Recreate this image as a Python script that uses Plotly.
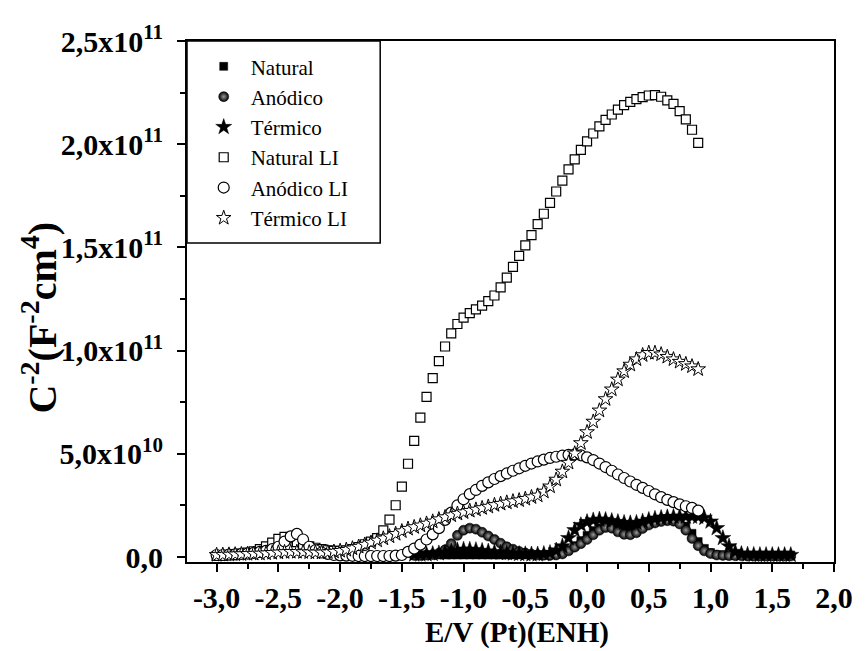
import plotly.graph_objects as go

# ---------------- data (values in units of 1e10 F^-2 cm^4) ----------------
E_LI = [-3.00, -2.95, -2.90, -2.85, -2.80, -2.75, -2.70, -2.65, -2.60, -2.55,
        -2.50, -2.45, -2.40, -2.35, -2.30, -2.25, -2.20, -2.15, -2.10, -2.05,
        -2.00, -1.95, -1.90, -1.85, -1.80, -1.75, -1.70, -1.65, -1.60, -1.55,
        -1.50, -1.45, -1.40, -1.35, -1.30, -1.25, -1.20, -1.15, -1.10, -1.05,
        -1.00, -0.95, -0.90, -0.85, -0.80, -0.75, -0.70, -0.65, -0.60, -0.55,
        -0.50, -0.45, -0.40, -0.35, -0.30, -0.25, -0.20, -0.15, -0.10, -0.05,
        0.00, 0.05, 0.10, 0.15, 0.20, 0.25, 0.30, 0.35, 0.40, 0.45,
        0.50, 0.55, 0.60, 0.65, 0.70, 0.75, 0.80, 0.85, 0.90]

natural_LI = [0.05, 0.07, 0.10, 0.13, 0.17, 0.22, 0.28, 0.38, 0.52, 0.70,
              0.88, 0.98, 0.90, 0.72, 0.60, 0.52, 0.45, 0.38, 0.33, 0.30,
              0.30, 0.32, 0.38, 0.48, 0.62, 0.75, 0.92, 1.29, 1.81, 2.51,
              3.41, 4.52, 5.63, 6.75, 7.76, 8.67, 9.49, 10.20, 10.84, 11.29,
              11.60, 11.82, 12.00, 12.18, 12.40, 12.67, 13.06, 13.54, 14.06, 14.59,
              15.10, 15.60, 16.13, 16.63, 17.16, 17.71, 18.24, 18.78, 19.27, 19.73,
              20.14, 20.52, 20.86, 21.18, 21.44, 21.68, 21.89, 22.05, 22.18, 22.28,
              22.36, 22.38, 22.30, 22.12, 21.95, 21.60, 21.20, 20.70, 20.06]

anodico_LI = [0.10, 0.10, 0.12, 0.13, 0.15, 0.17, 0.20, 0.25, 0.30, 0.38,
              0.50, 0.75, 1.00, 1.12, 0.85, 0.50, 0.33, 0.22, 0.15, 0.10,
              0.08, 0.07, 0.06, 0.05, 0.05, 0.05, 0.05, 0.05, 0.05, 0.07,
              0.10, 0.25, 0.41, 0.60, 0.85, 1.10, 1.40, 1.80, 2.15, 2.50,
              2.80, 3.05, 3.25, 3.45, 3.62, 3.78, 3.92, 4.05, 4.18, 4.30,
              4.42, 4.53, 4.63, 4.72, 4.80, 4.86, 4.91, 4.95, 4.97, 4.93,
              4.83, 4.70, 4.53, 4.36, 4.18, 4.00, 3.83, 3.66, 3.50, 3.35,
              3.20, 3.04, 2.90, 2.77, 2.66, 2.55, 2.46, 2.38, 2.25]

termico_LI = [0.10, 0.11, 0.12, 0.13, 0.14, 0.15, 0.16, 0.17, 0.18, 0.20,
              0.22, 0.24, 0.25, 0.25, 0.24, 0.23, 0.22, 0.22, 0.23, 0.26,
              0.30, 0.35, 0.42, 0.50, 0.60, 0.70, 0.80, 0.90, 1.00, 1.12,
              1.25, 1.37, 1.45, 1.53, 1.62, 1.72, 1.83, 1.93, 2.02, 2.10,
              2.17, 2.24, 2.30, 2.37, 2.44, 2.52, 2.58, 2.64, 2.70, 2.75,
              2.82, 2.90, 2.98, 3.17, 3.42, 3.75, 4.14, 4.57, 5.02, 5.52,
              6.05, 6.56, 7.10, 7.65, 8.12, 8.60, 9.00, 9.32, 9.58, 9.78,
              9.89, 9.89, 9.82, 9.70, 9.58, 9.46, 9.35, 9.24, 9.10]

E_dark = [-1.40, -1.35, -1.30, -1.25, -1.20, -1.15, -1.10, -1.05, -1.00, -0.95,
          -0.90, -0.85, -0.80, -0.75, -0.70, -0.65, -0.60, -0.55, -0.50, -0.45,
          -0.40, -0.35, -0.30, -0.25, -0.20, -0.15, -0.10, -0.05, 0.00, 0.05,
          0.10, 0.15, 0.20, 0.25, 0.30, 0.35, 0.40, 0.45, 0.50, 0.55,
          0.60, 0.65, 0.70, 0.75, 0.80, 0.85, 0.90, 0.95, 1.00, 1.05,
          1.10, 1.15, 1.20, 1.25, 1.30, 1.35, 1.40, 1.45, 1.50, 1.55,
          1.60, 1.65]

natural = [0.10, 0.10, 0.10, 0.10, 0.10, 0.10, 0.10, 0.10, 0.10, 0.10,
           0.10, 0.10, 0.10, 0.10, 0.10, 0.10, 0.10, 0.10, 0.10, 0.10,
           0.10, 0.11, 0.12, 0.15, 0.22, 0.35, 0.55, 0.80, 1.05, 1.28,
           1.42, 1.48, 1.48, 1.45, 1.43, 1.45, 1.50, 1.60, 1.70, 1.78,
           1.84, 1.86, 1.85, 1.75, 1.50, 1.15, 0.75, 0.42, 0.22, 0.12,
           0.10, 0.10, 0.10, 0.10, 0.10, 0.10, 0.10, 0.10, 0.10, 0.10,
           0.10, 0.10]

anodico = [0.08, 0.08, 0.10, 0.12, 0.18, 0.35, 0.65, 1.05, 1.30, 1.40,
           1.35, 1.20, 1.02, 0.85, 0.67, 0.50, 0.38, 0.27, 0.19, 0.14,
           0.11, 0.09, 0.08, 0.10, 0.15, 0.30, 0.48, 0.65, 0.85, 1.08,
           1.30, 1.43, 1.40, 1.22, 1.10, 1.08, 1.18, 1.38, 1.55, 1.65,
           1.72, 1.76, 1.74, 1.60, 1.30, 0.90, 0.55, 0.30, 0.17, 0.10,
           0.08, 0.07, 0.06, 0.06, 0.05, 0.05, 0.05, 0.05, 0.05, 0.05,
           0.05, 0.05]

termico = [0.12, 0.12, 0.13, 0.15, 0.18, 0.22, 0.28, 0.33, 0.36, 0.36,
           0.34, 0.30, 0.27, 0.24, 0.21, 0.19, 0.17, 0.15, 0.14, 0.13,
           0.13, 0.15, 0.20, 0.32, 0.52, 0.92, 1.30, 1.55, 1.70, 1.78,
           1.82, 1.80, 1.75, 1.70, 1.66, 1.64, 1.66, 1.72, 1.80, 1.86,
           1.90, 1.93, 1.95, 1.96, 1.96, 1.96, 1.95, 1.90, 1.72, 1.40,
           0.92, 0.52, 0.25, 0.15, 0.12, 0.11, 0.10, 0.10, 0.10, 0.10,
           0.10, 0.10]

SCALE = 1e10

x_tickvals = [-3.0, -2.5, -2.0, -1.5, -1.0, -0.5, 0.0, 0.5, 1.0, 1.5, 2.0]
x_ticktext = ["-3,0", "-2,5", "-2,0", "-1,5", "-1,0", "-0,5", "0,0", "0,5", "1,0", "1,5", "2,0"]
x_minorvals = [-3.25, -2.75, -2.25, -1.75, -1.25, -0.75, -0.25, 0.25, 0.75, 1.25, 1.75]
y_tickvals = [0, 5e10, 1e11, 1.5e11, 2e11, 2.5e11]
y_ticktext = ["0,0", "5,0x10<sup>10</sup>", "1,0x10<sup>11</sup>", "1,5x10<sup>11</sup>",
              "2,0x10<sup>11</sup>", "2,5x10<sup>11</sup>"]
y_minorvals = [2.5e10, 7.5e10, 1.25e11, 1.75e11, 2.25e11]

# ---------------- figure ----------------
FONT = "Liberation Serif"
fig = go.Figure()

def sc(v):
    return [a * SCALE for a in v]

fig.add_trace(go.Scatter(x=E_dark, y=sc(natural), mode="markers", name="Natural",
                         marker=dict(symbol="square", size=8, color="black",
                                     line=dict(color="black", width=0.5))))
fig.add_trace(go.Scatter(x=E_dark, y=sc(anodico), mode="markers", name="Anódico",
                         marker=dict(symbol="circle", size=10, color="black",
                                     gradient=dict(type="radial", color="#999999"),
                                     line=dict(color="black", width=0.5))))
fig.add_trace(go.Scatter(x=E_dark, y=sc(termico), mode="markers", name="Térmico",
                         marker=dict(symbol="star", size=12, color="black",
                                     line=dict(color="black", width=0.5))))
fig.add_trace(go.Scatter(x=E_LI, y=sc(natural_LI), mode="markers", name="Natural LI",
                         marker=dict(symbol="square", size=9, color="white",
                                     line=dict(color="black", width=1.2))))
fig.add_trace(go.Scatter(x=E_LI, y=sc(anodico_LI), mode="markers", name="Anódico LI",
                         marker=dict(symbol="circle", size=11, color="white",
                                     line=dict(color="black", width=1.2))))
fig.add_trace(go.Scatter(x=E_LI, y=sc(termico_LI), mode="markers", name="Térmico LI",
                         marker=dict(symbol="star", size=11, color="white",
                                     line=dict(color="black", width=1.0))))

axis_common = dict(showline=True, linecolor="black", linewidth=2, mirror=True,
                   ticks="outside", ticklen=8, tickwidth=2, tickcolor="black",
                   showgrid=False, zeroline=False)

fig.update_xaxes(range=[-3.24, 2.0], tickmode="array", tickvals=x_tickvals,
                 ticktext=x_ticktext,
                 tickfont=dict(family=FONT, size=30, color="black", weight="bold"),
                 minor=dict(tickmode="array", tickvals=x_minorvals, ticks="outside",
                            ticklen=5, tickwidth=1.5, tickcolor="black"),
                 **axis_common)
fig.update_yaxes(range=[-0.24e10, 2.5e11], tickmode="array", tickvals=y_tickvals,
                 ticktext=y_ticktext, ticklabelstandoff=8,
                 tickfont=dict(family=FONT, size=30, color="black", weight="bold"),
                 minor=dict(tickmode="array", tickvals=y_minorvals, ticks="outside",
                            ticklen=5, tickwidth=1.5, tickcolor="black"),
                 **axis_common)

# page body has an 8px margin, so the figure is offset by 8px
fig.update_layout(
    width=857, height=643,
    margin=dict(l=179, r=25, t=25, b=89),
    plot_bgcolor="white", paper_bgcolor="white",
    font=dict(family=FONT, color="black"),
    showlegend=True,
    legend=dict(x=0.015, y=0.99, xanchor="left", yanchor="top",
                bgcolor="rgba(0,0,0,0)", borderwidth=0,
                font=dict(family=FONT, size=21, color="black"),
                tracegroupgap=0, itemsizing="trace", itemwidth=44),
    shapes=[dict(type="rect", xref="paper", yref="paper",
                 x0=0, x1=0.2986, y0=0.6125, y1=1,
                 line=dict(color="black", width=1.5), fillcolor="rgba(0,0,0,0)")],
    annotations=[
        dict(text="<b>E/V (Pt)(ENH)</b>", xref="paper", yref="paper",
             x=0.51, y=-0.136, xanchor="center", yanchor="middle", showarrow=False,
             font=dict(family=FONT, size=29, color="black")),
        dict(text="<b>C<sup>-2</sup>(F<sup>-2</sup>cm<sup>4</sup>)</b>", xref="paper", yref="paper",
             x=-0.228, y=0.47, xanchor="center", yanchor="middle", showarrow=False,
             textangle=-90, font=dict(family=FONT, size=40, color="black")),
    ],
)

fig.write_html("out.html")
